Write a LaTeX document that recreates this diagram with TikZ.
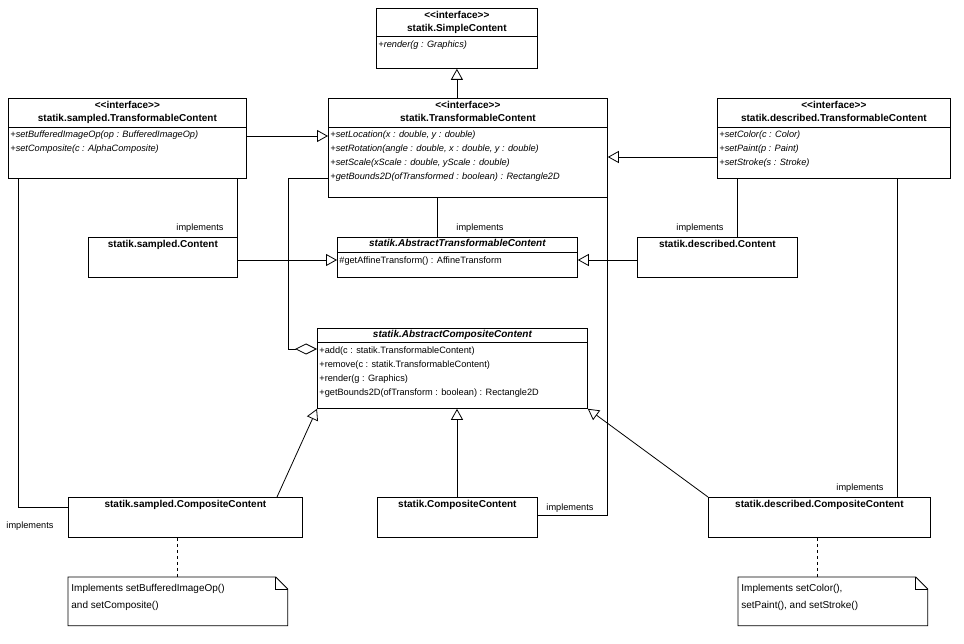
\documentclass[tikz,border=0pt]{standalone}
\usepackage{fontspec}
\setmainfont{Liberation Sans}
\usetikzlibrary{arrows.meta,calc}
\newcommand{\stereo}{<\kern0pt<interface>\kern0pt>}
\tikzset{
  box/.style={draw, anchor=north west, inner sep=0pt, minimum width=#1},
  ttl/.style={anchor=north, inner sep=0pt, font=\fontsize{10}{12}\selectfont\bfseries},
  mem/.style={anchor=north west, inner sep=0pt, font=\fontsize{9.2}{11}\selectfont},
  lbl/.style={inner sep=0pt, font=\fontsize{9.2}{11}\selectfont},
  gen/.style={-{Triangle[open,length=11pt,width=12pt]}},
  agg/.style={{Diamond[open,length=22pt,width=11pt]}-},
}
\begin{document}
\begin{tikzpicture}[x=1pt,y=-1pt,line width=0.8pt]
\useasboundingbox (0,0) rectangle (964,644);
% Klassen
\node[box=161pt, minimum height=60pt] (simple) at (376,8) {};
\draw ($(simple.north west)+(0,28)$) -- ($(simple.north east)+(0,28)$);
\node[ttl] at ($(simple.north)+(0,3)$) {\stereo};
\node[ttl] at ($(simple.north)+(0,16)$) {statik.SimpleContent};
\node[mem] at ($(simple.north west)+(2,32)$) {\itshape +render(g : Graphics)};

\node[box=238pt, minimum height=80pt] (stc) at (8,98) {};
\draw ($(stc.north west)+(0,29)$) -- ($(stc.north east)+(0,29)$);
\node[ttl] at ($(stc.north)+(0,3)$) {\stereo};
\node[ttl] at ($(stc.north)+(0,16)$) {statik.sampled.TransformableContent};
\node[mem] at ($(stc.north west)+(2,32)$) {\itshape +setBufferedImageOp(op : BufferedImageOp)};
\node[mem] at ($(stc.north west)+(2,46)$) {\itshape +setComposite(c : AlphaComposite)};

\node[box=279pt, minimum height=99pt] (tc) at (328,98) {};
\draw ($(tc.north west)+(0,29)$) -- ($(tc.north east)+(0,29)$);
\node[ttl] at ($(tc.north)+(0,3)$) {\stereo};
\node[ttl] at ($(tc.north)+(0,16)$) {statik.TransformableContent};
\node[mem] at ($(tc.north west)+(2,32)$) {\itshape +setLocation(x : double, y : double)};
\node[mem] at ($(tc.north west)+(2,46)$) {\itshape +setRotation(angle : double, x : double, y : double)};
\node[mem] at ($(tc.north west)+(2,60)$) {\itshape +setScale(xScale : double, yScale : double)};
\node[mem] at ($(tc.north west)+(2,74)$) {\itshape +getBounds2D(ofTransformed : boolean) : Rectangle2D};

\node[box=233pt, minimum height=80pt] (dtc) at (717,98) {};
\draw ($(dtc.north west)+(0,29)$) -- ($(dtc.north east)+(0,29)$);
\node[ttl] at ($(dtc.north)+(0,3)$) {\stereo};
\node[ttl] at ($(dtc.north)+(0,16)$) {statik.described.TransformableContent};
\node[mem] at ($(dtc.north west)+(2,32)$) {\itshape +setColor(c : Color)};
\node[mem] at ($(dtc.north west)+(2,46)$) {\itshape +setPaint(p : Paint)};
\node[mem] at ($(dtc.north west)+(2,60)$) {\itshape +setStroke(s : Stroke)};

\node[box=149pt, minimum height=40pt] (sc) at (88,237) {};
\node[ttl] at ($(sc.north)+(0,3)$) {statik.sampled.Content};

\node[box=240pt, minimum height=40pt] (atc) at (337,237) {};
\draw ($(atc.north west)+(0,15)$) -- ($(atc.north east)+(0,15)$);
\node[ttl] at ($(atc.north)+(0,2)$) {\itshape statik.AbstractTransformableContent};
\node[mem] at ($(atc.north west)+(2,19)$) {\#getAffineTransform() : AffineTransform};

\node[box=160pt, minimum height=40pt] (dc) at (637,237) {};
\node[ttl] at ($(dc.north)+(0,3)$) {statik.described.Content};

\node[box=270pt, minimum height=80pt] (acc) at (317,328) {};
\draw ($(acc.north west)+(0,14)$) -- ($(acc.north east)+(0,14)$);
\node[ttl] at ($(acc.north)+(0,2)$) {\itshape statik.AbstractCompositeContent};
\node[mem] at ($(acc.north west)+(2,18)$) {+add(c : statik.TransformableContent)};
\node[mem] at ($(acc.north west)+(2,32)$) {+remove(c : statik.TransformableContent)};
\node[mem] at ($(acc.north west)+(2,46)$) {+render(g : Graphics)};
\node[mem] at ($(acc.north west)+(2,60)$) {+getBounds2D(ofTransform : boolean) : Rectangle2D};

\node[box=234pt, minimum height=40pt] (scc) at (68,497) {};
\node[ttl] at ($(scc.north)+(0,3)$) {statik.sampled.CompositeContent};

\node[box=160pt, minimum height=40pt] (cc) at (377,497) {};
\node[ttl] at ($(cc.north)+(0,3)$) {statik.CompositeContent};

\node[box=222pt, minimum height=40pt] (dcc) at (708,497) {};
\node[ttl] at ($(dcc.north)+(0,3)$) {statik.described.CompositeContent};

% Notizen
\node[box=219pt, minimum height=48pt, draw=none] (snote) at (68,577) {};
\draw (snote.north west) -- ($(snote.north east)+(-12,0)$) -- ($(snote.north east)+(0,12)$) -- (snote.south east) -- (snote.south west) -- cycle;
\draw ($(snote.north east)+(-12,0)$) -- ($(snote.north east)+(-12,12)$) -- ($(snote.north east)+(0,12)$);
\node[mem] at ($(snote.north west)+(3,7)$) {\fontsize{10}{12}\selectfont Implements setBufferedImageOp()};
\node[mem] at ($(snote.north west)+(3,24)$) {\fontsize{10}{12}\selectfont and setComposite()};

\node[box=189pt, minimum height=48pt, draw=none] (dnote) at (738,577) {};
\draw (dnote.north west) -- ($(dnote.north east)+(-12,0)$) -- ($(dnote.north east)+(0,12)$) -- (dnote.south east) -- (dnote.south west) -- cycle;
\draw ($(dnote.north east)+(-12,0)$) -- ($(dnote.north east)+(-12,12)$) -- ($(dnote.north east)+(0,12)$);
\node[mem] at ($(dnote.north west)+(3,7)$) {\fontsize{10}{12}\selectfont Implements setColor(),};
\node[mem] at ($(dnote.north west)+(3,24)$) {\fontsize{10}{12}\selectfont setPaint(), and setStroke()};

% Beziehungen
\draw[gen] (tc.north -| simple.south) -- (simple.south);
\draw[gen] (stc.east |- 0,136) -- (tc.west |- 0,136);
\draw[gen] (dtc.west |- 0,157) -- (tc.east |- 0,157);
\draw[gen] (sc.east |- 0,260) -- (atc.west |- 0,260);
\draw[gen] (dc.west |- 0,260) -- (atc.east |- 0,260);
\draw (tc.south -| 437,0) -- (atc.north -| 437,0);
\node[lbl] (l1) at (480,228) {implements};
\draw (stc.south -| sc.east) -- (sc.north east);
\node[lbl] (l2) at (200,228) {implements};
\draw (dtc.south -| 737,0) -- (dc.north -| 737,0);
\node[lbl] (l3) at (700,228) {implements};
\draw[agg] (acc.west |- 0,349) -- (288,349) -- (288,178) -- (tc.west |- 0,178);
\draw (stc.south -| 18,0) -- (18,507) -- (scc.west |- 0,507);
\node[lbl] (l4) at (30,526) {implements};
\draw[gen] (scc.north -| 277,0) -- (acc.south -| 317,0);
\draw[gen] (cc.north -| 457,0) -- (acc.south -| 457,0);
\draw[gen] (dcc.north west) -- (acc.south east);
\draw (cc.east |- 0,515) -- (607,515) -- (tc.south -| 607,0);
\node[lbl] (l5) at (570,508) {implements};
\draw (dtc.south -| 897,0) -- (dcc.north -| 897,0);
\node[lbl] (l6) at (860,488) {implements};
\draw[dashed] (scc.south -| 177,0) -- (snote.north -| 177,0);
\draw[dashed] (dcc.south -| 817,0) -- (dnote.north -| 817,0);
\end{tikzpicture}
\end{document}
